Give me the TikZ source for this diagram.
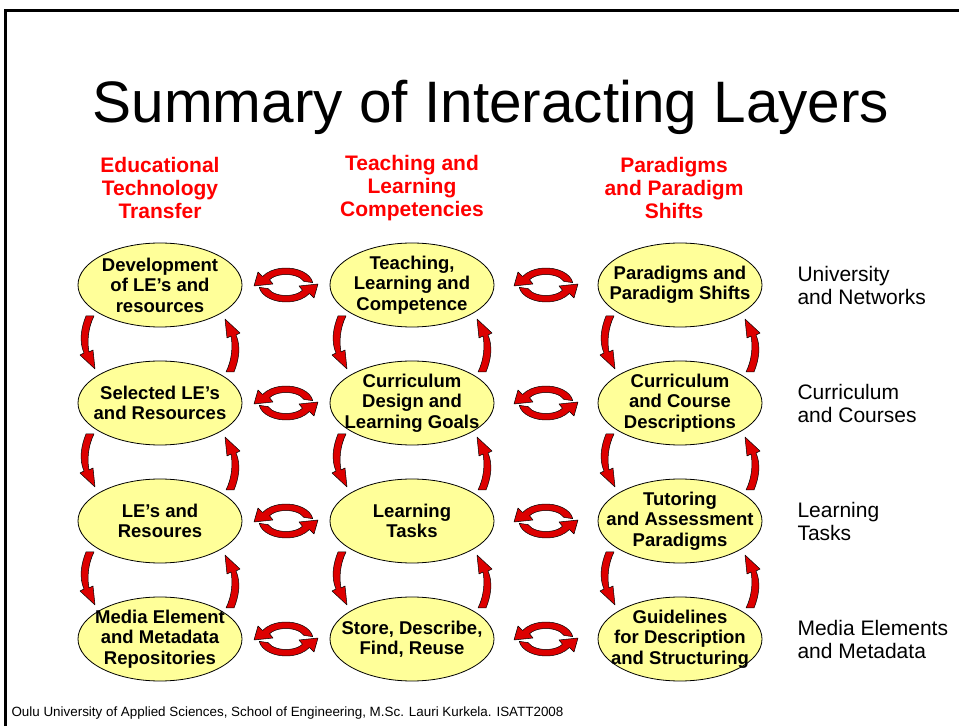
\documentclass[tikz,border=0pt]{standalone}
\usepackage{fontspec}
\setmainfont{Liberation Sans}
\usetikzlibrary{shapes}
\usetikzlibrary{positioning}
\usetikzlibrary{calc}

\definecolor{layerfill}{RGB}{255,255,153}
\definecolor{arrowred}{RGB}{221,0,0}

\begin{document}
\begin{tikzpicture}[x=1pt, y=1pt, on grid, node distance=118pt and 252pt,
  layer/.style={ellipse, draw, fill=layerfill, line width=0.8pt, minimum width=164pt, minimum height=84pt, inner sep=0pt},
  txt/.style={font=\fontsize{18.5}{20.5}\selectfont\bfseries, align=center},
  head/.style={font=\fontsize{21}{23}\selectfont\bfseries, text=red, align=center},
  level/.style={font=\fontsize{21}{23}\selectfont, align=left, anchor=west},
  title/.style={font=\fontsize{58.5}{62}\selectfont},
  foot/.style={font=\fontsize{13.4}{15}\selectfont, anchor=west},
  band/.style={fill=arrowred, draw=black, line width=0.5pt, line join=round},
  swaparrows/.pic={
    \path[band] (8:27 and 17) arc[start angle=8, end angle=150, x radius=27, y radius=17]
      -- (-28,13) -- (-32,-1) -- (-13,1) -- (150:19 and 10.5)
      arc[start angle=150, end angle=20, x radius=19, y radius=10.5] -- cycle;
    \path[band, rotate=180] (8:27 and 17) arc[start angle=8, end angle=150, x radius=27, y radius=17]
      -- (-28,13) -- (-32,-1) -- (-13,1) -- (150:19 and 10.5)
      arc[start angle=150, end angle=20, x radius=19, y radius=10.5] -- cycle;
  },
  looparrows/.pic={
    \path[band, shift={(-70,0)}] (-4,28) -- (4,28) .. controls (-2,16) and (-3,2) .. (-1,-8)
      -- (3,-6) -- (5,-25) -- (-10,-11) -- (-6,-9) .. controls (-11,2) and (-9,16) .. cycle;
    \path[band, rotate=180, shift={(-70,0)}] (-4,28) -- (4,28) .. controls (-2,16) and (-3,2) .. (-1,-8)
      -- (3,-6) -- (5,-25) -- (-10,-11) -- (-6,-9) .. controls (-11,2) and (-9,16) .. cycle;
  }]
	  \useasboundingbox (0,0) rectangle (959,726);
	  \draw[line width=2.5pt] (5.3,0) -- (5.3,715.5) -- (959,715.5);

	  \node[title] (title) at (491,619) {Summary of Interacting Layers};

	  % first column
	  \node[layer, label={[txt]center:{Development\\ of LE's and\\ resources}}] (dev) at (160,441) {};
	  \node[layer, label={[txt]center:{Selected LE's\\ and Resources}}] (sel) [below = of dev] {};
	  \node[layer, label={[txt]center:{LE's and\\ Resoures}}] (les) [below = of sel] {};
	  \node[layer, label={[txt]center:{Media Element\\ and Metadata\\ Repositories}}] (media) [below = of les] {};

	  % second column
	  \node[layer, label={[txt]center:{Teaching,\\ Learning and\\ Competence}}] (teach) [right = of dev] {};
	  \node[layer, label={[txt]center:{Curriculum\\ Design and\\ Learning Goals}}] (curr) [below = of teach] {};
	  \node[layer, label={[txt]center:{Learning\\ Tasks}}] (tasks) [below = of curr] {};
	  \node[layer, label={[txt]center:{Store, Describe,\\ Find, Reuse}}] (store) [below = of tasks] {};

	  % third column
	  \node[layer, label={[txt]center:{Paradigms and\\ Paradigm Shifts}}] (par) [right = 268pt of teach] {};
	  \node[layer, label={[txt]center:{Curriculum\\ and Course\\ Descriptions}}] (course) [below = of par] {};
	  \node[layer, label={[txt]center:{Tutoring\\ and Assessment\\ Paradigms}}] (tutor) [below = of course] {};
	  \node[layer, label={[txt]center:{Guidelines\\ for Description\\ and Structuring}}] (guide) [below = of tutor] {};

	  \node[head] (edu) [above = 97pt of dev] {Educational\\ Technology\\ Transfer};
	  \node[head] (comp) [above = 97pt of teach] {Teaching and\\ Learning\\ Competencies};
	  \node[head] (shift) [above = 97pt of par, xshift=-6pt] {Paradigms\\ and Paradigm\\ Shifts};

	  \node (univ) [right = 114pt of par, level] {University\\ and Networks};
	  \node (courses) [right = 114pt of course, level] {Curriculum\\ and Courses};
	  \node (learn) [right = 114pt of tutor, level] {Learning\\ Tasks};
	  \node (meta) [right = 114pt of guide, level] {Media Elements\\ and Metadata};

	  % turning arrows between the rows
	  \pic at ($(dev)!0.5!(sel)$) {looparrows};
	  \pic at ($(sel)!0.5!(les)$) {looparrows};
	  \pic at ($(les)!0.5!(media)$) {looparrows};
	  \pic at ($(teach)!0.5!(curr)$) {looparrows};
	  \pic at ($(curr)!0.5!(tasks)$) {looparrows};
	  \pic at ($(tasks)!0.5!(store)$) {looparrows};
	  \pic at ($(par)!0.5!(course)$) {looparrows};
	  \pic at ($(course)!0.5!(tutor)$) {looparrows};
	  \pic at ($(tutor)!0.5!(guide)$) {looparrows};

	  % swap arrows between the columns
	  \pic at ($(dev)!0.5!(teach)$) {swaparrows};
	  \pic at ($(sel)!0.5!(curr)$) {swaparrows};
	  \pic at ($(les)!0.5!(tasks)$) {swaparrows};
	  \pic at ($(media)!0.5!(store)$) {swaparrows};
	  \pic at ($(teach)!0.5!(par)$) {swaparrows};
	  \pic at ($(curr)!0.5!(course)$) {swaparrows};
	  \pic at ($(tasks)!0.5!(tutor)$) {swaparrows};
	  \pic at ($(store)!0.5!(guide)$) {swaparrows};

	  \node[foot] (foot) at (8,13) {Oulu University of Applied Sciences, School of Engineering, M.Sc. Lauri Kurkela. ISATT2008};
	\end{tikzpicture}
\end{document}
